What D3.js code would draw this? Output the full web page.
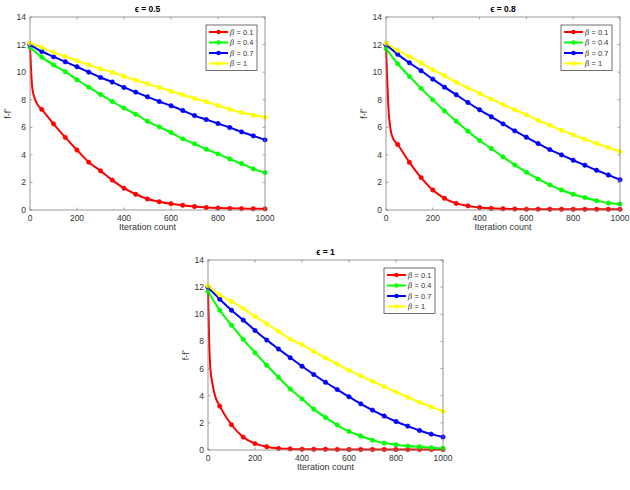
<!DOCTYPE html>
<html><head><meta charset="utf-8">
<script src="https://cdn.jsdelivr.net/npm/d3@7"></script>
<style>
body{margin:0;background:#fff;}
text{font-family:"Liberation Sans",Arial,sans-serif;}
</style></head>
<body><svg id="c" width="630" height="490"></svg>
<script>
const iters = [0,50,100,150,200,250,300,350,400,450,500,550,600,650,700,750,800,850,900,950,1000];
const xTicks = [0,200,400,600,800,1000];
const yTicks = [0,2,4,6,8,10,12,14];
const betaLabels = ["0.1","0.4","0.7","1"];
const colors = ["#ff0000","#00ff00","#0000ff","#ffff00"];
const titles = ["0.5","0.8","1"];

// red curves: extra early points for the steep initial drop
const redHeadX = [0,5,10,20,30];
const e05_redHead = [12,10.0,8.8,8.1,7.7];
const e08_redHead = [12,9.5,7.5,5.8,5.2];
const e1_redHead  = [12,8.0,6.0,4.8,4.0];

const e05_red    = [12,7.3,6.25,5.27,4.35,3.47,2.84,2.17,1.58,1.14,0.8,0.6,0.45,0.35,0.25,0.18,0.14,0.12,0.1,0.09,0.08];
const e05_green  = [11.8,11.09,10.53,10.03,9.45,8.91,8.38,7.87,7.39,6.95,6.44,6.03,5.62,5.16,4.8,4.41,4.07,3.7,3.37,2.98,2.71];
const e05_blue   = [12,11.5,11.12,10.75,10.39,10.0,9.61,9.28,8.89,8.55,8.21,7.87,7.56,7.22,6.85,6.56,6.27,5.98,5.67,5.38,5.09];
const e05_yellow = [12.1,11.8,11.43,11.14,10.83,10.53,10.24,9.98,9.69,9.42,9.15,8.89,8.62,8.36,8.09,7.85,7.58,7.31,7.07,6.88,6.73];

const e08_red    = [12,4.75,3.46,2.35,1.45,0.85,0.48,0.3,0.18,0.12,0.09,0.07,0.06,0.06,0.05,0.05,0.05,0.05,0.05,0.05,0.05];
const e08_green  = [11.7,10.61,9.69,8.82,7.99,7.19,6.44,5.72,5.04,4.46,3.85,3.27,2.74,2.25,1.82,1.45,1.14,0.9,0.68,0.51,0.43];
const e08_blue   = [12,11.29,10.68,10.1,9.49,8.91,8.36,7.8,7.27,6.76,6.25,5.74,5.28,4.82,4.38,4.0,3.61,3.25,2.88,2.54,2.2];
const e08_yellow = [12.1,11.58,11.12,10.68,10.17,9.74,9.28,8.86,8.45,8.04,7.65,7.27,6.9,6.51,6.15,5.79,5.45,5.13,4.82,4.53,4.24];

const e1_red    = [12,3.23,1.86,0.95,0.47,0.24,0.12,0.08,0.06,0.05,0.05,0.04,0.04,0.04,0.04,0.04,0.04,0.04,0.04,0.04,0.04];
const e1_green  = [11.7,10.3,9.2,8.15,7.17,6.24,5.36,4.5,3.77,3.01,2.4,1.84,1.37,1.03,0.73,0.51,0.39,0.29,0.24,0.17,0.13];
const e1_blue   = [12,11.11,10.3,9.57,8.81,8.1,7.44,6.8,6.17,5.56,4.99,4.45,3.92,3.4,2.94,2.5,2.1,1.76,1.44,1.17,0.96];
const e1_yellow = [12.1,11.43,10.94,10.43,9.84,9.3,8.74,8.17,7.76,7.27,6.78,6.34,5.87,5.46,5.07,4.67,4.28,3.89,3.52,3.18,2.86];

const panels = [
  {title:titles[0], head:e05_redHead, series:[e05_red,e05_green,e05_blue,e05_yellow], x0:30, x1:265, y0:210, y1:17},
  {title:titles[1], head:e08_redHead, series:[e08_red,e08_green,e08_blue,e08_yellow], x0:386, x1:620, y0:210, y1:17},
  {title:titles[2], head:e1_redHead,  series:[e1_red,e1_green,e1_blue,e1_yellow],     x0:208, x1:443, y0:450, y1:260}
];

const svg = d3.select("#c");
const frameCol = "#808080";
const textCol = "#333";

panels.forEach(p => {
  const x = d3.scaleLinear().domain([0,1000]).range([p.x0,p.x1]);
  const y = d3.scaleLinear().domain([0,14]).range([p.y0,p.y1]);
  const g = svg.append("g");

  p.series.forEach((s,i) => {
    let pts = iters.map((it,k)=>[it,s[k]]);
    if (i===0) pts = p.head.map((v,k)=>[redHeadX[k],v]).concat(pts.slice(1));
    const line = d3.line().x(d=>x(d[0])).y(d=>y(d[1])).curve(d3.curveMonotoneX);
    g.append("path").datum(pts).attr("d",line).attr("fill","none")
      .attr("stroke",colors[i]).attr("stroke-width",2);
    g.selectAll(null).data(iters.map((it,k)=>[it,s[k]])).enter().append("circle")
      .attr("cx",d=>x(d[0])).attr("cy",d=>y(d[1])).attr("r",2.2)
      .attr("fill",colors[i]).attr("stroke",colors[i]).attr("stroke-width",0.6);
  });

  g.append("rect").attr("x",p.x0).attr("y",p.y1).attr("width",p.x1-p.x0).attr("height",p.y0-p.y1)
    .attr("fill","none").attr("stroke",frameCol).attr("stroke-width",0.8);
  const tl = 2.5;
  xTicks.forEach(t => {
    g.append("line").attr("x1",x(t)).attr("x2",x(t)).attr("y1",p.y0).attr("y2",p.y0-tl).attr("stroke",frameCol).attr("stroke-width",0.7);
    g.append("line").attr("x1",x(t)).attr("x2",x(t)).attr("y1",p.y1).attr("y2",p.y1+tl).attr("stroke",frameCol).attr("stroke-width",0.7);
    g.append("text").attr("x",x(t)).attr("y",p.y0+10.5).attr("text-anchor","middle")
      .attr("font-size",8.5).attr("fill",textCol).text(t);
  });
  yTicks.forEach(t => {
    g.append("line").attr("x1",p.x0).attr("x2",p.x0+tl).attr("y1",y(t)).attr("y2",y(t)).attr("stroke",frameCol).attr("stroke-width",0.7);
    g.append("line").attr("x1",p.x1).attr("x2",p.x1-tl).attr("y1",y(t)).attr("y2",y(t)).attr("stroke",frameCol).attr("stroke-width",0.7);
    g.append("text").attr("x",p.x0-4).attr("y",y(t)+3).attr("text-anchor","end")
      .attr("font-size",8.5).attr("fill",textCol).text(t);
  });

  g.append("text").attr("x",(p.x0+p.x1)/2).attr("y",p.y1-5).attr("text-anchor","middle")
    .attr("font-size",8.5).attr("font-weight","bold").attr("fill","#000")
    .text("\u03F5 = " + p.title);

  g.append("text").attr("x",(p.x0+p.x1)/2).attr("y",p.y0+19.5).attr("text-anchor","middle")
    .attr("font-size",9).attr("fill",textCol).text("Iteration count");

  const yl = g.append("text").attr("transform",`translate(${p.x0-19},${(p.y0+p.y1)/2}) rotate(-90)`)
    .attr("text-anchor","middle").attr("font-size",9).attr("fill",textCol);
  yl.append("tspan").text("f-f");
  yl.append("tspan").attr("dy",-3).attr("font-size",6).text("*");

  const lx = p.x1 - 59, ly = p.y1 + 8, lw = 51, lh = 45.5;
  g.append("rect").attr("x",lx).attr("y",ly).attr("width",lw).attr("height",lh)
    .attr("fill","#fff").attr("stroke","#333").attr("stroke-width",0.7);
  betaLabels.forEach((b,i) => {
    const yy = ly + 7 + i*10.5;
    g.append("line").attr("x1",lx+3).attr("x2",lx+22).attr("y1",yy).attr("y2",yy)
      .attr("stroke",colors[i]).attr("stroke-width",2);
    g.append("circle").attr("cx",lx+12.5).attr("cy",yy).attr("r",2.2).attr("fill",colors[i]);
    const t = g.append("text").attr("x",lx+24).attr("y",yy+2.8).attr("font-size",7.5).attr("fill",textCol);
    t.append("tspan").attr("font-style","italic").attr("font-family","'DejaVu Serif',serif").text("\u03B2");
    t.append("tspan").text(" = " + b);
  });
});
</script></body></html>
